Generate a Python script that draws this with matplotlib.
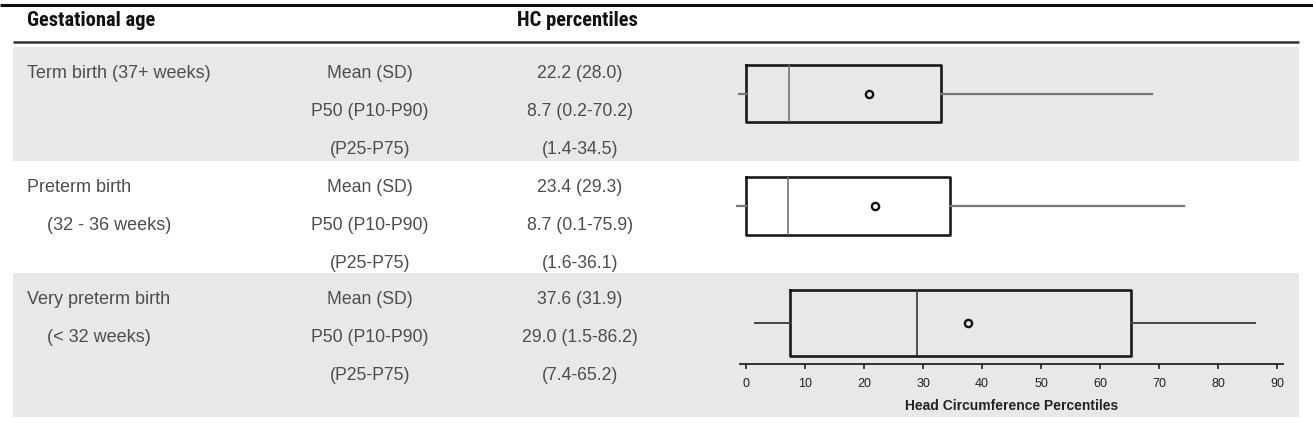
import matplotlib
matplotlib.use("Agg")
import matplotlib.pyplot as plt
from matplotlib.patches import Rectangle

# ---------------- data ----------------
header_left = "Gestational age"
header_mid = "HC percentiles"
groups = ["Term birth (37+ weeks)", "Preterm birth", "Very preterm birth"]
group_sub = ["", "(32 - 36 weeks)", "(< 32 weeks)"]
stat_labels = ["Mean (SD)", "P50 (P10-P90)", "(P25-P75)"]
mean_vals = [22.2, 23.4, 37.6]
sd_vals = [28.0, 29.3, 31.9]
p10 = [0.2, 0.1, 1.5]
p25 = [1.4, 1.6, 7.4]
p50 = [8.7, 8.7, 29.0]
p75 = [34.5, 36.1, 65.2]
p90 = [70.2, 75.9, 86.2]
x_ticks = [0, 10, 20, 30, 40, 50, 60, 70, 80, 90]
x_label = "Head Circumference Percentiles"

# ---------------- layout ----------------
W, H = 1313, 441
fig = plt.figure(figsize=(W / 100, H / 100), dpi=100)
fig.patch.set_facecolor("white")

ax0 = fig.add_axes([0, 0, 1, 1])
ax0.set_xlim(0, W)
ax0.set_ylim(H, 0)
ax0.axis("off")

GREY = "#e8e8e8"
TXT = "#4d4d4d"
bands = [(47, 161, GREY), (161, 273, "white"), (273, 417, GREY)]
for (y0, y1, c) in bands:
    ax0.add_patch(Rectangle((13, y0), 1299 - 13, y1 - y0, facecolor=c,
                            edgecolor="none", zorder=0))

# rules
ax0.plot([0, W], [4.5, 4.5], color="#111111", lw=2.2, solid_capstyle="butt")
ax0.plot([13, 1299], [42, 42], color="#333333", lw=1.8, solid_capstyle="butt")

head_font = ["Roboto Condensed", "DejaVu Sans Condensed", "Liberation Sans Narrow",
             "Liberation Sans"]
body_font = ["Liberation Sans", "DejaVu Sans"]

ax0.text(27, 20, header_left, fontsize=14.8, fontweight="bold",
         family=head_font, fontstretch="condensed", color="#111111",
         va="center", ha="left")
ax0.text(577, 20, header_mid, fontsize=14.8, fontweight="bold",
         family=head_font, fontstretch="condensed", color="#111111",
         va="center", ha="center")

line_gap = 38
for i in range(3):
    top = bands[i][0]
    ys = [top + 26 + k * line_gap for k in range(3)]
    ax0.text(27, ys[0], groups[i], fontsize=13, family=body_font,
             color=TXT, va="center", ha="left")
    if group_sub[i]:
        ax0.text(47, ys[1], group_sub[i], fontsize=13, family=body_font,
                 color=TXT, va="center", ha="left")
    vals = [f"{mean_vals[i]:.1f} ({sd_vals[i]:.1f})",
            f"{p50[i]:.1f} ({p10[i]:.1f}-{p90[i]:.1f})",
            f"({p25[i]:.1f}-{p75[i]:.1f})"]
    for k in range(3):
        ax0.text(370, ys[k], stat_labels[k], fontsize=12.7, family=body_font,
                 color=TXT, va="center", ha="center")
        ax0.text(580, ys[k], vals[k], fontsize=12.7, family=body_font,
                 color=TXT, va="center", ha="center")

# ---------------- box plots ----------------
zero_px, ppu = 746.0, 5.9
xmin, xmax = -1.0, 91.0
ax_x0 = zero_px + xmin * ppu
ax_x1 = zero_px + xmax * ppu
# each row was a separate panel in the source, slightly shifted horizontally
panel_shift = [1.4, 1.6, 0.0]
rows = [  # (axes top, axes bottom, box centre, box height) in pixels
    (50, 140, 93.5, 57),
    (165, 250, 206, 58),
    (280, 364, 323, 66),
]
med_col = ["#707070", "#707070", "#333333"]
whis_col = ["#777777", "#777777", "#444444"]
whis_lw = [1.6, 1.6, 1.4]


def px_axes(x0, x1, y0, y1):
    return fig.add_axes([x0 / W, 1 - y1 / H, (x1 - x0) / W, (y1 - y0) / H])


for i in range(3):
    t, b, pos, hgt = rows[i]
    ax = px_axes(ax_x0, ax_x1, t, b)
    ax.set_facecolor("none")
    ax.set_xlim(xmin + panel_shift[i], xmax + panel_shift[i])
    ax.set_ylim(b, t)
    stats = [dict(med=p50[i], q1=p25[i], q3=p75[i], whislo=p10[i],
                  whishi=p90[i], mean=mean_vals[i], fliers=[])]
    ax.bxp(stats, positions=[pos], widths=[hgt], orientation="horizontal",
           showcaps=False, showmeans=True, showfliers=False,
           boxprops=dict(color="#1a1a1a", lw=1.9),
           medianprops=dict(color=med_col[i], lw=1.2),
           whiskerprops=dict(color=whis_col[i], lw=whis_lw[i]),
           meanprops=dict(marker="o", markersize=5.2, markerfacecolor="none",
                          markeredgecolor="#111111", markeredgewidth=1.7))
    for art in ax.get_children():
        try:
            art.set_clip_on(False)
        except Exception:
            pass
    ax.set_yticks([])
    for s in ["top", "left", "right"]:
        ax.spines[s].set_visible(False)
    if i < 2:
        ax.spines["bottom"].set_visible(False)
        ax.set_xticks([])
    else:
        ax.spines["bottom"].set_color("#222222")
        ax.spines["bottom"].set_linewidth(1.3)
        ax.set_xticks(x_ticks)
        ax.set_xticklabels([str(v) for v in x_ticks], family=body_font,
                           fontsize=9, color="#222222")
        ax.tick_params(axis="x", direction="out", length=3.3, width=1.2,
                       color="#222222", pad=6.5)
        ax.set_xlabel(x_label, fontsize=10, fontweight="bold",
                      family=body_font, color="#222222", labelpad=7)

fig.savefig("out.png", dpi=100, facecolor="white")
